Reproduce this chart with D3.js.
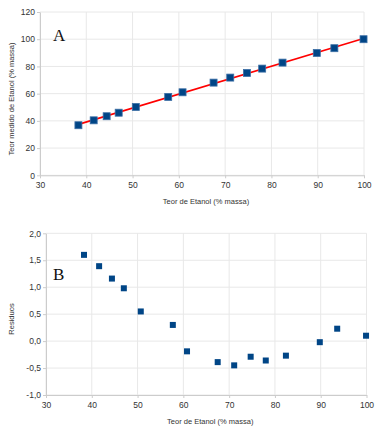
<!DOCTYPE html>
<html>
<head>
<meta charset="utf-8">
<script src="https://cdn.jsdelivr.net/npm/d3@7"></script>
<style>
  body { margin: 0; background: #fff; }
  text { font-family: "Liberation Sans", Arial, sans-serif; }
</style>
</head>
<body>
<div id="chart"></div>
<script>
// Teor de Etanol (% massa) - reference values
const teor = [38.3, 41.6, 44.4, 47.0, 50.7, 57.7, 60.8, 67.5, 71.1, 74.7, 78.0, 82.4, 89.8, 93.6, 99.9];
// Teor medido (% massa)
const medido = [36.8, 40.4, 43.4, 46.0, 50.2, 57.6, 61.0, 68.1, 71.8, 75.2, 78.4, 82.8, 89.9, 93.4, 100.0];
// Residuos
const residuos = [1.60, 1.39, 1.16, 0.98, 0.55, 0.30, -0.19, -0.39, -0.45, -0.29, -0.36, -0.27, -0.02, 0.23, 0.10];

const xTicks = [30, 40, 50, 60, 70, 80, 90, 100];
const yTicksA = [0, 20, 40, 60, 80, 100, 120];
const yTicksB = [-1.0, -0.5, 0.0, 0.5, 1.0, 1.5, 2.0];

const W = 378, H = 430;
const svg = d3.select("#chart").append("svg")
    .attr("width", W)
    .attr("height", H);

const locale = d3.formatLocale({ decimal: ",", thousands: ".", grouping: [3], currency: ["", ""], minus: "-" });
const fmt1 = locale.format(".1f");

const gridColor = "#e8e8e8";
const axisColor = "#cccccc";
const markColor = "#004586";

function panel(opts) {
    const g = svg.append("g");
    const x = d3.scaleLinear().domain([30, 100]).range([opts.left, opts.right]);
    const y = d3.scaleLinear().domain(opts.yDomain).range([opts.bottom, opts.top]);

    // grid
    g.selectAll("line.vg").data(xTicks).enter().append("line")
        .attr("x1", d => x(d)).attr("x2", d => x(d))
        .attr("y1", opts.top).attr("y2", opts.bottom)
        .attr("stroke", gridColor).attr("stroke-width", 1);
    g.selectAll("line.hg").data(opts.yTicks).enter().append("line")
        .attr("x1", opts.left).attr("x2", opts.right)
        .attr("y1", d => y(d)).attr("y2", d => y(d))
        .attr("stroke", gridColor).attr("stroke-width", 1);

    // axes
    const ax = g.append("g")
        .attr("transform", "translate(0," + opts.bottom + ")")
        .call(d3.axisBottom(x).tickValues(xTicks).tickSize(3).tickSizeOuter(0).tickPadding(4));
    const ay = g.append("g")
        .attr("transform", "translate(" + opts.left + ",0)")
        .call(d3.axisLeft(y).tickValues(opts.yTicks).tickFormat(opts.fmt).tickSize(3).tickSizeOuter(0).tickPadding(2));
    [ax, ay].forEach(a => {
        a.select(".domain").attr("stroke", axisColor);
        a.selectAll(".tick line").attr("stroke", axisColor);
        a.selectAll(".tick text")
            .attr("fill", "#333")
            .style("font-size", "8.5px")
            .style("font-family", "Liberation Sans, Arial, sans-serif");
    });

    // titles
    g.append("text")
        .attr("x", (opts.left + opts.right) / 2 + 4)
        .attr("y", opts.xTitleY)
        .attr("text-anchor", "middle")
        .attr("fill", "#333")
        .style("font-size", "7.5px")
        .text("Teor de Etanol (% massa)");
    g.append("text")
        .attr("transform", "translate(14," + opts.yTitleY + ") rotate(-90)")
        .attr("text-anchor", "middle")
        .attr("fill", "#333")
        .style("font-size", "7.5px")
        .text(opts.yTitle);

    // panel letter
    g.append("text")
        .attr("x", 53)
        .attr("y", opts.letterY)
        .style("font-family", "Liberation Serif, serif")
        .style("font-size", "17px")
        .attr("fill", "#111")
        .text(opts.letter);

    return { g, x, y };
}

// Panel A
const A = panel({
    left: 40, right: 364, top: 12, bottom: 175.3,
    yDomain: [0, 120], yTicks: yTicksA, fmt: d3.format("d"),
    xTitleY: 204, yTitleY: 99, yTitle: "Teor medido de Etanol (% massa)",
    letter: "A", letterY: 41
});

// least-squares fit line
const mx = d3.mean(teor), my = d3.mean(medido);
const slope = d3.sum(teor, (t, i) => (t - mx) * (medido[i] - my)) / d3.sum(teor, t => (t - mx) * (t - mx));
const intercept = my - slope * mx;
const xEnds = d3.extent(teor);
A.g.append("line")
    .attr("x1", A.x(xEnds[0])).attr("y1", A.y(intercept + slope * xEnds[0]))
    .attr("x2", A.x(xEnds[1])).attr("y2", A.y(intercept + slope * xEnds[1]))
    .attr("stroke", "#ff0000")
    .attr("stroke-width", 1.6);

A.g.selectAll("rect.pt").data(teor).enter().append("rect")
    .attr("x", (d) => A.x(d) - 3.5)
    .attr("y", (d, i) => A.y(medido[i]) - 3.5)
    .attr("width", 7).attr("height", 7)
    .attr("fill", markColor)
    .attr("stroke", "#3c6fa6")
    .attr("stroke-width", 0.8);

// Panel B
const B = panel({
    left: 46, right: 366.5, top: 233.3, bottom: 395,
    yDomain: [-1, 2], yTicks: yTicksB, fmt: fmt1,
    xTitleY: 424, yTitleY: 319, yTitle: "Residuos",
    letter: "B", letterY: 279.5
});

B.g.selectAll("rect.pt").data(teor).enter().append("rect")
    .attr("x", (d) => B.x(d) - 3)
    .attr("y", (d, i) => B.y(residuos[i]) - 3)
    .attr("width", 6).attr("height", 6)
    .attr("fill", markColor);
</script>
</body>
</html>
